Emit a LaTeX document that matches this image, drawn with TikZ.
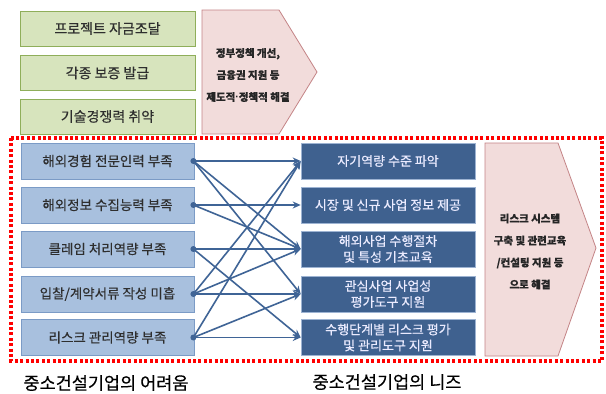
\documentclass[tikz,border=0pt]{standalone}
\usepackage{fontspec}
\setmainfont{Noto Sans CJK KR}[FakeBold=0.4]
\newfontfamily\latinfont{Liberation Sans}
\usetikzlibrary{arrows.meta}
\definecolor{gfill}{HTML}{D7E4BD}
\definecolor{gdraw}{HTML}{8FAE5A}
\definecolor{bfill}{HTML}{A8C0DE}
\definecolor{bdraw}{HTML}{7B9BC6}
\definecolor{dfill}{HTML}{3F618F}
\definecolor{ddraw}{HTML}{9DB3D2}
\definecolor{pfill}{HTML}{F2DCDB}
\definecolor{pdraw}{HTML}{C48486}
\definecolor{arr}{HTML}{3F6496}
\definecolor{txt}{HTML}{2E2E2E}
\tikzset{
  gbox/.style={draw=gdraw, fill=gfill, line width=0.8pt, minimum width=175pt, minimum height=35pt, inner sep=0pt, font=\fontsize{14}{16}\selectfont, text=txt},
  lbox/.style={draw=bdraw, fill=bfill, line width=0.8pt, minimum width=173pt, minimum height=36pt, inner sep=0pt, font=\fontsize{13.5}{16}\selectfont, text=txt},
  rbox/.style={draw=ddraw, fill=dfill, line width=0.6pt, minimum width=174pt, minimum height=36pt, inner sep=0pt, align=center, font=\fontsize{13}{16}\selectfont, text=white!92!blue},
  pshape/.style={draw=pdraw, fill=pfill, line width=0.8pt},
  ptext/.style={align=center, font=\bfseries\fontsize{10.5}{22}\selectfont, text=black!85},
  link/.style={draw=arr, line width=1.6pt, -{Stealth[length=8pt,width=7pt]}},
  dot/.style={circle, fill=arr, inner sep=0pt, minimum size=6pt},
  caption/.style={font=\fontsize{17.5}{20}\selectfont, text=black}
}
\begin{document}
\begin{tikzpicture}[x=1pt,y=-1pt]
\useasboundingbox (0,0) rectangle (606,394);
\fill[white] (0,0) rectangle (606,394);
% top section
\node[gbox] (g1) at (107.5,28.5) {프로젝트 자금조달};
\node[gbox] (g2) at (107.5,73) {각종 보증 발급};
\node[gbox] (g3) at (107.5,116.5) {기술경쟁력 취약};
\draw[pshape] (202,10) -- (279,10) -- (317,72) -- (279,134) -- (202,134) -- cycle;
\node[ptext] (p1) at (248,75) {정부정책 개선,\\금융권 지원 등\\제도적{\latinfont\bfseries·}정책적 해결};
% red dotted frame
\draw[red, line width=3.4pt, dash pattern=on 3pt off 2.4pt] (11,138) rectangle (602,361);
% left boxes
\node[lbox] (L1) at (107.5,161) {해외경험 전문인력 부족};
\node[lbox] (L2) at (107.5,205) {해외정보 수집능력 부족};
\node[lbox] (L3) at (107.5,249) {클레임 처리역량 부족};
\node[lbox] (L4) at (107.5,294) {입찰/계약서류 작성 미흡};
\node[lbox] (L5) at (107.5,337.5) {리스크 관리역량 부족};
% right boxes
\node[rbox] (R1) at (388,161) {자기역량 수준 파악};
\node[rbox] (R2) at (388,205) {시장 및 신규 사업 정보 제공};
\node[rbox] (R3) at (388,249) {해외사업 수행절차\\및 특성 기초교육};
\node[rbox] (R4) at (388,294) {관심사업 사업성\\평가도구 지원};
\node[rbox] (R5) at (388,337.5) {수행단계별 리스크 평가\\및 관리도구 지원};
% right pentagon
\draw[pshape] (485,143) -- (558,143) -- (596,248) -- (558,356) -- (485,356) -- cycle;
\node[ptext] (p2) at (530,251.5) {리스크 시스템\\구축 및 관련교육\\/컨설팅 지원 등\\으로 해결};
% dots
\foreach \i in {1,...,5} {\node[dot] (d\i) at ([xshift=-1pt]L\i.east) {};}
% connectors
\draw[link] (d1.center) -- (R1.west);
\draw[link] (d1.center) -- (R3.west);
\draw[link] (d1.center) -- (R4.west);
\draw[link] (d2.center) -- (R2.west);
\draw[link] (d2.center) -- (R3.west);
\draw[link] (d3.center) -- (R3.west);
\draw[link] (d3.center) -- (R5.west);
\draw[link] (d4.center) -- (R1.west);
\draw[link] (d4.center) -- (R3.west);
\draw[link] (d4.center) -- (R4.west);
\draw[link] (d5.center) -- (R1.west);
\draw[link] (d5.center) -- (R4.west);
\draw[link] (d5.center) -- (R5.west);
% captions
\node[caption] (c1) at (106,383) {중소건설기업의 어려움};
\node[caption] (c2) at (387,382) {중소건설기업의 니즈};
\end{tikzpicture}
\end{document}
